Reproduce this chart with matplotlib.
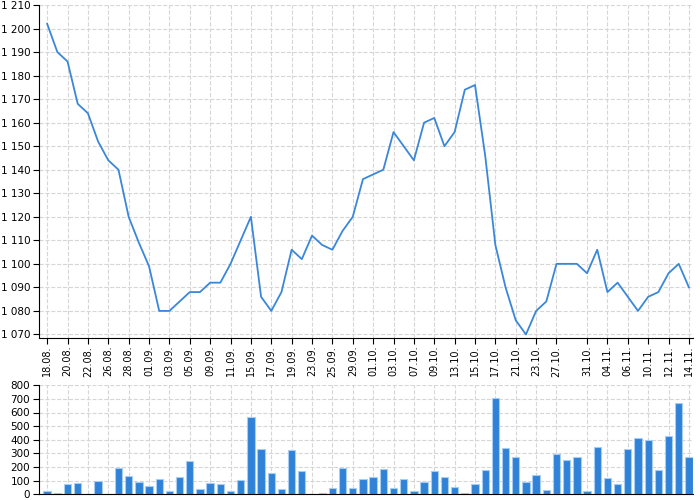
import matplotlib
matplotlib.use("Agg")
import matplotlib.pyplot as plt
from matplotlib.ticker import FuncFormatter, FixedLocator
import numpy as np

# trading days 18.08. - 14.11. (28.10. holiday)
dates = ["18.08.", "19.08.", "20.08.", "21.08.", "22.08.", "25.08.", "26.08.", "27.08.", "28.08.", "29.08.",
         "01.09.", "02.09.", "03.09.", "04.09.", "05.09.", "08.09.", "09.09.", "10.09.", "11.09.", "12.09.",
         "15.09.", "16.09.", "17.09.", "18.09.", "19.09.", "22.09.", "23.09.", "24.09.", "25.09.", "26.09.",
         "29.09.", "30.09.", "01.10.", "02.10.", "03.10.", "06.10.", "07.10.", "08.10.", "09.10.", "10.10.",
         "13.10.", "14.10.", "15.10.", "16.10.", "17.10.", "20.10.", "21.10.", "22.10.", "23.10.", "24.10.",
         "27.10.", "29.10.", "30.10.", "31.10.", "03.11.", "04.11.", "05.11.", "06.11.", "07.11.", "10.11.",
         "11.11.", "12.11.", "13.11.", "14.11."]

price = [1202, 1190, 1186, 1168, 1164, 1152, 1144, 1140, 1120, 1109,
         1099, 1080, 1080, 1084, 1088, 1088, 1092, 1092, 1100, 1110,
         1120, 1086, 1080, 1088, 1106, 1102, 1112, 1108, 1106, 1114,
         1120, 1136, 1138, 1140, 1156, 1150, 1144, 1160, 1162, 1150,
         1156, 1174, 1176, 1146, 1108, 1090, 1076, 1070, 1080, 1084,
         1100, 1100, 1100, 1096, 1106, 1088, 1092, 1086, 1080, 1086,
         1088, 1096, 1100, 1090]

volume = [27, 7, 76, 83, 0, 100, 0, 191, 132, 88,
          61, 110, 27, 125, 243, 42, 83, 74, 27, 108,
          567, 329, 157, 42, 326, 169, 5, 12, 44, 191,
          49, 110, 125, 182, 49, 113, 22, 88, 174, 123,
          52, 12, 76, 177, 710, 337, 273, 87, 138, 28,
          292, 250, 276, 26, 345, 118, 76, 331, 411, 398,
          177, 427, 667, 276]

# labelled days
tick_days = ["18.08.", "20.08.", "22.08.", "26.08.", "28.08.", "01.09.", "03.09.", "05.09.",
             "09.09.", "11.09.", "15.09.", "17.09.", "19.09.", "23.09.", "25.09.", "29.09.",
             "01.10.", "03.10.", "07.10.", "09.10.", "13.10.", "15.10.", "17.10.", "21.10.",
             "23.10.", "27.10.", "31.10.", "04.11.", "06.11.", "10.11.", "12.11.", "14.11."]

x = np.arange(len(dates))
ticks = [dates.index(d) for d in tick_days]

blue = "#3a87da"
grid_kw = dict(color="#d6d6d6", linestyle="--", linewidth=0.8)

def space_fmt(v, pos):
    return "{:,.0f}".format(v).replace(",", " ")

fig = plt.figure(figsize=(7, 5), dpi=100)
ax1 = fig.add_axes([0.055, 0.325, 0.935, 0.665])
ax2 = fig.add_axes([0.055, 0.0115, 0.935, 0.218])

ax1.plot(x, price, color=blue, linewidth=1.3)
ax1.set_ylim(1068.7, 1210)
ax1.set_yticks(np.arange(1070, 1211, 10))
ax1.yaxis.set_major_formatter(FuncFormatter(space_fmt))

ax2.bar(x, volume, width=0.72, color="#2f82d8", edgecolor="#a8cdf2", linewidth=0.8)
ax2.set_ylim(0, 800)
ax2.set_yticks(np.arange(0, 801, 100))

for ax in (ax1, ax2):
    ax.set_xlim(-0.85, 63.4)
    ax.xaxis.set_major_locator(FixedLocator(ticks))
    ax.grid(True, **grid_kw)
    ax.set_axisbelow(True)
    ax.spines["top"].set_visible(False)
    ax.spines["right"].set_visible(False)
    ax.tick_params(axis="y", labelsize=7.5, length=4, pad=2)

ax1.set_xticklabels(tick_days, rotation=90, fontsize=7)
ax1.tick_params(axis="x", length=4, pad=2)
ax2.tick_params(axis="x", length=0, labelbottom=False)

plt.savefig("out.png", dpi=100)
plt.close()
